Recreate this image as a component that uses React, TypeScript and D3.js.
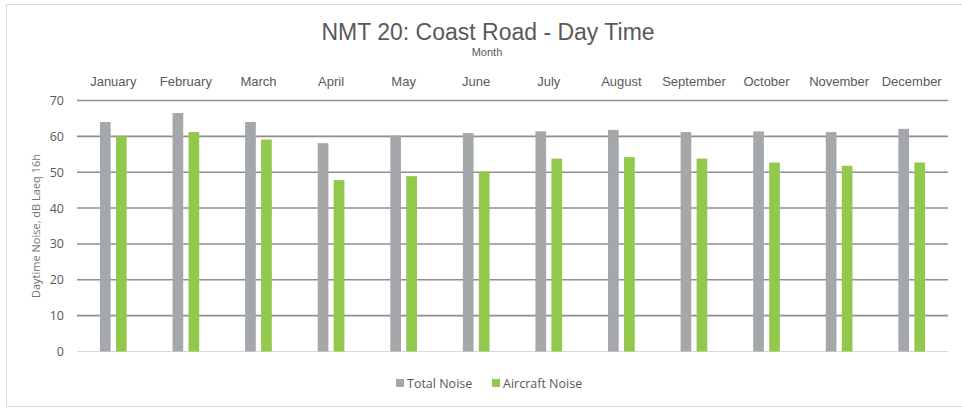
import React from "react";
import * as d3 from "d3";

const months = ["January","February","March","April","May","June","July","August","September","October","November","December"];
const totalNoise = [64.0, 66.5, 64.0, 58.1, 60.2, 60.9, 61.4, 61.8, 61.2, 61.4, 61.2, 62.1];
const aircraftNoise = [60.0, 61.2, 59.1, 47.8, 48.9, 50.2, 53.8, 54.2, 53.8, 52.7, 51.8, 52.7];
const yTicks = [0, 10, 20, 30, 40, 50, 60, 70];
const seriesNames = ["Total Noise", "Aircraft Noise"];
const colors = ["#A5A8AA", "#92C84C"];

export default function App() {
  const W = 962, H = 409;
  const left = 77, right = 948, top = 100.5, bottom = 351.5;
  const x = d3.scaleBand<string>().domain(months).range([left, right]).padding(0);
  const y = d3.scaleLinear().domain([0, 70]).range([bottom, top]);
  const barW = 10.7, gap = 5.3;
  const series = [totalNoise, aircraftNoise];
  const groupW = barW * 2 + gap;
  return (
    <svg width={W} height={H} style={{ position: "absolute", left: 0, top: 0 }}>
      <rect x={0} y={0} width={W} height={H} fill="#fff" />
      <rect x={6.5} y={4.5} width={W + 10} height={402} fill="#fff" stroke="#d9d9d9" strokeWidth={1} />
      <text x={488} y={40} textAnchor="middle" fontFamily="Liberation Sans, Arial, sans-serif" fontSize={23} fill="#595959">NMT 20: Coast Road - Day Time</text>
      <text x={487} y={56} textAnchor="middle" fontFamily="Liberation Sans, sans-serif" fontSize={11} fill="#595959">Month</text>
      {months.map((m) => (
        <text key={m} x={x(m)! + x.bandwidth() / 2} y={86} textAnchor="middle" fontFamily="Liberation Sans, sans-serif" fontSize={13} fill="#595959">{m}</text>
      ))}
      {yTicks.filter(t => t > 0).map((t) => (
        <line key={t} x1={left} x2={right} y1={y(t)} y2={y(t)} stroke="#8f8f8f" strokeWidth={1.6} />
      ))}
      <line x1={left} x2={right} y1={y(0)} y2={y(0)} stroke="#d9d9d9" strokeWidth={1.2} />
      {yTicks.map((t) => (
        <text key={t} x={64} y={y(t) + 4.5} textAnchor="end" fontFamily="Open Sans, sans-serif" fontSize={12.5} fill="#595959">{t}</text>
      ))}
      <text transform={`translate(40,${226}) rotate(-90)`} textAnchor="middle" fontFamily="Open Sans, sans-serif" fontSize={11} fill="#737373">Daytime Noise, dB Laeq 16h</text>
      {series.map((vals, si) => (
        <g key={si}>
          {vals.map((v, i) => {
            const cx = x(months[i])! + x.bandwidth() / 2 - groupW / 2 + si * (barW + gap);
            return <rect key={i} x={cx} y={y(v)} width={barW} height={y(0) - y(v)} fill={colors[si]} />;
          })}
        </g>
      ))}
      <g fontFamily="Open Sans, sans-serif" fontSize={12.5} fill="#595959">
        <rect x={396} y={379} width={8} height={8} fill={colors[0]} />
        <text x={407} y={388}>{seriesNames[0]}</text>
        <rect x={492} y={379} width={8} height={8} fill={colors[1]} />
        <text x={503} y={388}>{seriesNames[1]}</text>
      </g>
    </svg>
  );
}
